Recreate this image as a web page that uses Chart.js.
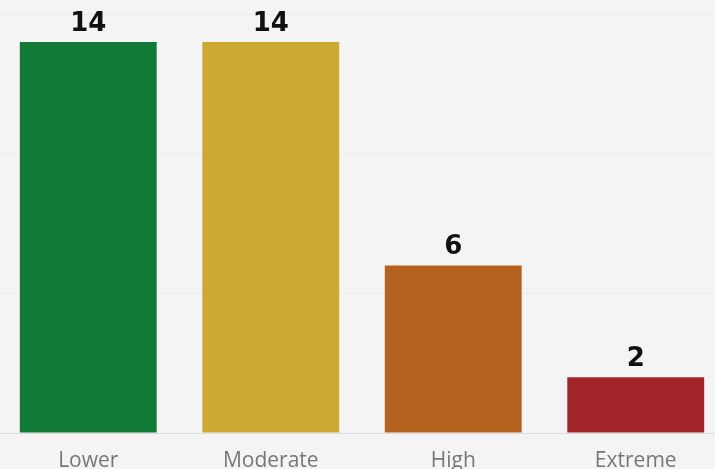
<!DOCTYPE html>
<html>
<head>
<meta charset="utf-8">
<script src="https://cdn.jsdelivr.net/npm/chart.js@4"></script>
<style>
  html, body { margin: 0; padding: 0; background: #f4f4f4; overflow: hidden; }
  #wrap { position: absolute; left: -3px; top: 0; width: 730px; height: 469px; }
</style>
</head>
<body>
<div id="wrap"><canvas id="chartRisk"></canvas></div>
<script>
const categories = ['Lower', 'Moderate', 'High', 'Extreme'];
const counts = [14, 14, 6, 2];
const barColors = ['#107a36', '#cda832', '#b5621e', '#a02428'];
const yTicks = [0, 5, 10, 15];

// value labels above the bars
const valueLabels = {
  id: 'valueLabels',
  afterDatasetsDraw(chart) {
    const ctx = chart.ctx;
    const meta = chart.getDatasetMeta(0);
    ctx.save();
    ctx.font = "bold 26px 'DejaVu Sans', sans-serif";
    ctx.fillStyle = '#111';
    ctx.textAlign = 'center';
    ctx.textBaseline = 'alphabetic';
    meta.data.forEach((bar, i) => {
      ctx.fillText(counts[i], bar.x, bar.y - 11);
    });
    ctx.restore();
  }
};

new Chart(document.getElementById('chartRisk'), {
  type: 'bar',
  data: {
    labels: categories,
    datasets: [{
      data: counts,
      backgroundColor: barColors,
      barPercentage: 0.75,
      categoryPercentage: 1
    }]
  },
  options: {
    responsive: true,
    maintainAspectRatio: false,
    animation: false,
    layout: { padding: { top: 14, left: 0, right: 0, bottom: 0 } },
    plugins: { legend: { display: false }, tooltip: { enabled: false } },
    scales: {
      x: {
        grid: { display: false },
        border: { display: true, color: '#dcdcdc', dash: [4, 3] },
        ticks: { color: '#777', font: { family: "'Open Sans', sans-serif", size: 21 }, padding: 7 },
        afterFit(scale) { scale.height = 36; }
      },
      y: {
        min: 0, max: 15,
        afterBuildTicks(scale) { scale.ticks = yTicks.map(v => ({ value: v })); },
        grid: { color: ctx => ctx.tick && ctx.tick.value === 0 ? 'rgba(0,0,0,0)' : '#ebebeb', drawTicks: false },
        border: { display: false },
        ticks: { display: false },
        afterFit(scale) { scale.width = 0; }
      }
    }
  },
  plugins: [valueLabels]
});
</script>
</body>
</html>
